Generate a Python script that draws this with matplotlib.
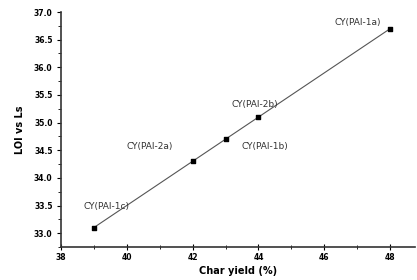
import matplotlib
matplotlib.use("Agg")
import numpy as np
import matplotlib.pyplot as plt
from matplotlib.ticker import MultipleLocator

# char yield vs LOI for each sample
char_yield = [39, 42, 43, 44, 48]
loi = [33.1, 34.3, 34.7, 35.1, 36.7]
names = ["CY(PAI-1c)", "CY(PAI-2a)", "CY(PAI-1b)", "CY(PAI-2b)", "CY(PAI-1a)"]
label_pos = [(39.4, 33.49), (40.7, 34.57), (44.2, 34.57), (43.9, 35.32), (47.0, 36.81)]

fig = plt.figure(figsize=(4.17, 2.8), dpi=100)
ax = fig.add_axes([0.146, 0.118, 0.849, 0.839])

slope, icept = np.polyfit(char_yield, loi, 1)
xs = np.array([min(char_yield), max(char_yield)])
ax.plot(xs, slope * xs + icept, color="#555555", lw=0.8, zorder=1)
ax.scatter(char_yield, loi, marker="s", s=12, color="black", zorder=2)

for name, (lx, ly) in zip(names, label_pos):
    ax.text(lx, ly, name, fontsize=6.5, color="#333333", ha="center", va="center")

ax.set_xlim(38, 48.75)
ax.set_ylim(32.75, 37.0)
ax.xaxis.set_major_locator(MultipleLocator(2))
ax.xaxis.set_minor_locator(MultipleLocator(1))
ax.yaxis.set_major_locator(MultipleLocator(0.5))
ax.yaxis.set_minor_locator(MultipleLocator(0.25))
ax.yaxis.set_major_formatter(matplotlib.ticker.FormatStrFormatter("%.1f"))

for s in ["top", "right"]:
    ax.spines[s].set_visible(False)
for s in ["left", "bottom"]:
    ax.spines[s].set_linewidth(1.2)
    ax.spines[s].set_color("#333333")

ax.tick_params(axis="y", direction="out", length=3, width=0.8, labelsize=5.5, pad=3)
ax.tick_params(axis="y", which="minor", direction="out", length=2, width=0.6)
ax.tick_params(axis="x", direction="inout", length=4, width=0.8, labelsize=5.5, pad=2)
ax.tick_params(axis="x", which="minor", direction="inout", length=3, width=0.6)
for lab in ax.get_xticklabels() + ax.get_yticklabels():
    lab.set_fontweight("bold")

ax.set_xlabel("Char yield (%)", fontsize=7, fontweight="bold", labelpad=3)
ax.set_ylabel("LOI vs Ls", fontsize=7, fontweight="bold", labelpad=6)

fig.savefig("out.png", dpi=100)
